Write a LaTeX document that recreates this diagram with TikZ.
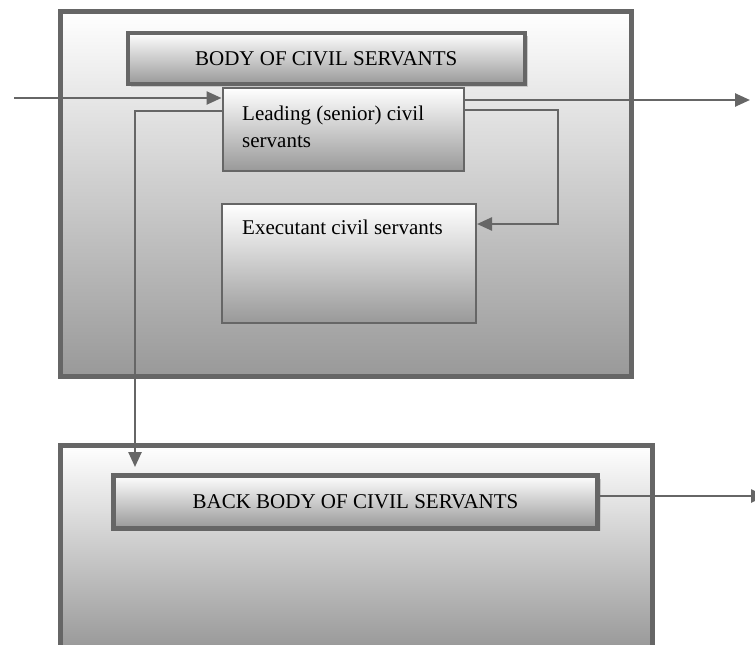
\documentclass[tikz,border=0pt]{standalone}
\usepackage{fontspec}
\setmainfont{Liberation Serif}
\usetikzlibrary{arrows.meta,shadows}
\newcommand\diagfont{\fontsize{21}{27}\selectfont}

\begin{document}
\begin{tikzpicture}[x=1pt, y=-1pt,
	bodybox/.style={draw=black!60, line width=5pt, top color=white, bottom color=black!40, inner sep=0pt},
	titlebox/.style={draw=black!60, top color=white, bottom color=black!40, inner sep=0pt, font=\diagfont,
		drop shadow={shadow xshift=3pt, shadow yshift=-3pt, fill=black!22, opacity=1}},
	staffbox/.style={draw=black!60, line width=2pt, top color=white, bottom color=black!40, inner sep=0pt},
	txt/.style={font=\diagfont, align=left, inner sep=0pt, anchor=west},
	link/.style={draw=black!60, line width=2.5pt, -{Triangle[length=15pt,width=13pt]}}]
			%%%%% START %%%%%
			\useasboundingbox (0, 0) rectangle (755, 645);
			
			% upper body
			\node[bodybox, minimum width=571, minimum height=365] (body) at (346, 193.5) {};
			\node[titlebox, line width=4pt, minimum width=397.5, minimum height=51.5] (title) at (326.25, 58.25) {BODY OF CIVIL SERVANTS};
			\node[staffbox, minimum width=241.5, minimum height=83] (lead) at (343.25, 129.5) {};
			\node[txt] (leadtxt) at ([xshift=20.5pt, yshift=3pt]lead.west) {Leading (senior) civil\\servants};
			\node[staffbox, minimum width=254, minimum height=119] (exec) at (349, 263.5) {};
			\node[txt] (exectxt) at ([xshift=21pt, yshift=-24pt]exec.north west) {Executant civil servants};
			
			% lower body
			\node[bodybox, minimum width=591.5, minimum height=202.5] (back) at (356.25, 546.75) {};
			\node[titlebox, line width=5pt, minimum width=484, minimum height=52.5] (backtitle) at (355.5, 501.75) {BACK BODY OF CIVIL SERVANTS};
			
			% connectors
			\coordinate (src) at (14, 98);
			\coordinate (out) at (750, 100);
			\coordinate (turn) at (558, 110);
			\coordinate (turnb) at (558, 224);
			\coordinate (drop) at (135, 111);
			\coordinate (droptip) at (135, 467);
			\coordinate (backout) at (766, 496);
			
			\draw[link] (src) -- (src -| lead.west);
			\draw[link] (out -| lead.east) -- (out);
			\draw[link] (turn -| lead.east) -- (turn) -- (turnb) -- (turnb -| exec.east);
			\draw[link] (drop -| lead.west) -- (drop) -- (droptip);
			\draw[link] (backout -| backtitle.east) -- (backout);
			%%%%% END %%%%%
\end{tikzpicture}
\end{document}
